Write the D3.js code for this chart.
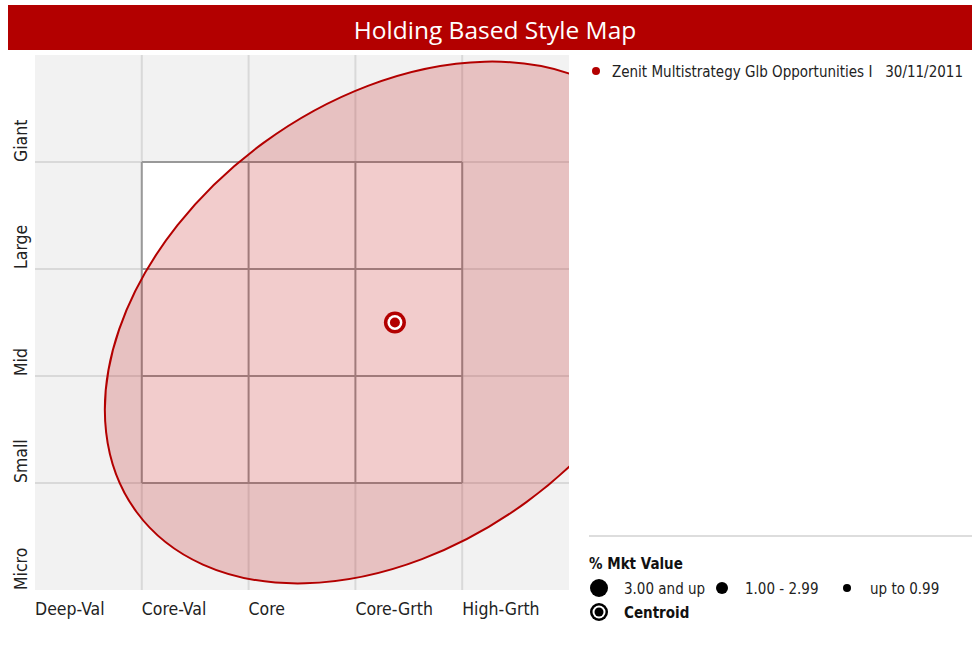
<!DOCTYPE html>
<html>
<head>
<meta charset="utf-8">
<script src="https://cdn.jsdelivr.net/npm/d3@7"></script>
<style>
  body { margin: 0; background: #fff; }
  svg text { font-family: "Liberation Sans Narrow", "DejaVu Sans Condensed", "Roboto", sans-serif; }
</style>
</head>
<body>
<svg id="chart" width="972" height="657"></svg>
<script>
// style / size categories (columns left->right, rows bottom->top)
var styleLabels = ["Deep-Val", "Core-Val", "Core", "Core-Grth", "High-Grth"];
var sizeLabels = ["Micro", "Small", "Mid", "Large", "Giant"];

// fund centroid in style-box units (0..5 on both axes)
var fundName = "Zenit Multistrategy Glb Opportunities I";
var fundDate = "30/11/2011";
var centroid = [3.37, 2.5];
// ownership zone: semi-axes (major, minor) and tilt in degrees
var zoneAxes = [3.0, 2.08];
var zoneTilt = [36.2];

var sizeBins = ["3.00 and up", "1.00 - 2.99", "up to 0.99"];

var svg = d3.select("#chart");
var red = "#b30000";

var x = d3.scaleLinear().domain([0, 5]).range([35, 569]),
    y = d3.scaleLinear().domain([0, 5]).range([590, 55]);

// title bar
svg.append("rect").attr("x", 8).attr("y", 5).attr("width", 964).attr("height", 45).attr("fill", red);
svg.append("text")
    .attr("x", 495).attr("y", 39)
    .attr("text-anchor", "middle")
    .attr("fill", "#fff")
    .style("font-family", "'Open Sans', 'Liberation Sans', sans-serif")
    .style("font-size", "24.5px")
    .text("Holding Based Style Map");

// plot background
svg.append("defs").append("clipPath").attr("id", "plotclip")
    .append("rect")
    .attr("x", x(0)).attr("y", y(5))
    .attr("width", x(5) - x(0)).attr("height", y(0) - y(5));

var plot = svg.append("g");
plot.append("rect")
    .attr("x", x(0)).attr("y", y(5))
    .attr("width", x(5) - x(0)).attr("height", y(0) - y(5))
    .attr("fill", "#f2f2f2");

var inner = d3.range(1, 5);
plot.selectAll("line.gx").data(inner).enter().append("line")
    .attr("x1", function (d) { return x(d); }).attr("x2", function (d) { return x(d); })
    .attr("y1", y(0)).attr("y2", y(5))
    .attr("stroke", "#d9d9d9").attr("stroke-width", 2);
plot.selectAll("line.gy").data(inner).enter().append("line")
    .attr("y1", function (d) { return y(d); }).attr("y2", function (d) { return y(d); })
    .attr("x1", x(0)).attr("x2", x(5))
    .attr("stroke", "#d9d9d9").attr("stroke-width", 2);

// central 3x3 style box
plot.append("rect")
    .attr("x", x(1)).attr("y", y(4))
    .attr("width", x(4) - x(1)).attr("height", y(1) - y(4))
    .attr("fill", "#fff");
plot.selectAll("line.bx").data(inner).enter().append("line")
    .attr("x1", function (d) { return x(d); }).attr("x2", function (d) { return x(d); })
    .attr("y1", y(1)).attr("y2", y(4))
    .attr("stroke", "#999").attr("stroke-width", 2);
plot.selectAll("line.by").data(inner).enter().append("line")
    .attr("y1", function (d) { return y(d); }).attr("y2", function (d) { return y(d); })
    .attr("x1", x(1)).attr("x2", x(4))
    .attr("stroke", "#999").attr("stroke-width", 2);

// ownership zone (clipped to plot area)
var cx = x(centroid[0]), cy = y(centroid[1]);
svg.append("g").attr("clip-path", "url(#plotclip)")
  .append("ellipse")
    .attr("cx", cx).attr("cy", cy)
    .attr("rx", x(zoneAxes[0]) - x(0))
    .attr("ry", y(0) - y(zoneAxes[1]))
    .attr("transform", "rotate(" + (-zoneTilt[0]) + "," + cx + "," + cy + ")")
    .attr("fill", "#c00000").attr("fill-opacity", 0.2)
    .attr("stroke", red).attr("stroke-width", 2);

// centroid marker
function ring(g, px, py, color, r) {
    g.append("circle").attr("cx", px).attr("cy", py).attr("r", r[0]).attr("fill", color);
    g.append("circle").attr("cx", px).attr("cy", py).attr("r", r[1]).attr("fill", "#fff");
    g.append("circle").attr("cx", px).attr("cy", py).attr("r", r[2]).attr("fill", color);
}
ring(svg, cx, cy, red, [11, 7.5, 5]);

// axis labels
svg.selectAll("text.xl").data(styleLabels).enter().append("text")
    .attr("x", function (d, i) { return x(i); })
    .attr("y", 615)
    .attr("fill", "#222")
    .style("font-size", "17.5px")
    .text(function (d) { return d; });
svg.selectAll("text.yl").data(sizeLabels).enter().append("text")
    .attr("transform", function (d, i) { return "translate(27," + y(i) + ") rotate(-90)"; })
    .attr("fill", "#222")
    .style("font-size", "17.5px")
    .text(function (d) { return d; });

// fund legend
svg.append("circle").attr("cx", 596).attr("cy", 71).attr("r", 4).attr("fill", red);
svg.append("text").attr("x", 612).attr("y", 77).attr("fill", "#222").style("font-size", "15px").text(fundName);
svg.append("text").attr("x", 963).attr("y", 77).attr("text-anchor", "end").attr("fill", "#222").style("font-size", "15px").text(fundDate);

// size legend
svg.append("line").attr("x1", 589).attr("x2", 972).attr("y1", 536).attr("y2", 536)
    .attr("stroke", "#ddd").attr("stroke-width", 2);
svg.append("text").attr("x", 589).attr("y", 569).attr("fill", "#111")
    .style("font-size", "15px").style("font-weight", "bold").text("% Mkt Value");

var binX = [599, 722, 847], binR = [9, 6, 4];
svg.selectAll("circle.bin").data(sizeBins).enter().append("circle")
    .attr("cx", function (d, i) { return binX[i]; }).attr("cy", 588)
    .attr("r", function (d, i) { return binR[i]; }).attr("fill", "#000");
svg.selectAll("text.bin").data(sizeBins).enter().append("text")
    .attr("x", function (d, i) { return binX[i] + 25 - (i ? 2 : 0); }).attr("y", 594)
    .attr("fill", "#222").style("font-size", "15px")
    .text(function (d) { return d; });

ring(svg, 599, 612, "#000", [9, 6.5, 4.5]);
svg.append("text").attr("x", 624).attr("y", 618).attr("fill", "#111")
    .style("font-size", "15px").style("font-weight", "bold").text("Centroid");
</script>
</body>
</html>
